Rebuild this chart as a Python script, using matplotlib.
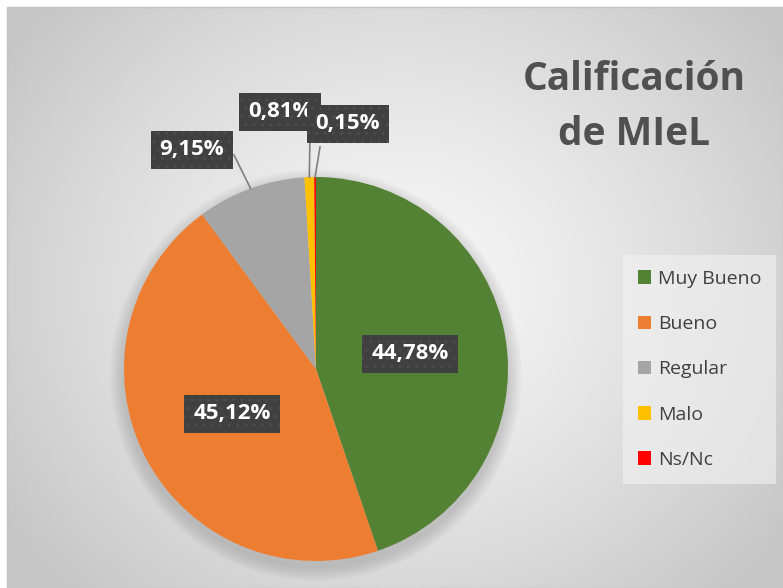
import numpy as np
import matplotlib
matplotlib.use("Agg")
import matplotlib.pyplot as plt
from matplotlib.patches import Rectangle, Ellipse

# ─── Datos ────────────────────────────────────────────────────────────────────
categorias = ["Muy Bueno", "Bueno", "Regular", "Malo", "Ns/Nc"]
porcentajes = [44.78, 45.12, 9.15, 0.81, 0.15]
etiquetas = ["44,78%", "45,12%", "9,15%", "0,81%", "0,15%"]
colores = ["#548235", "#ED7D31", "#A5A5A5", "#FFC000", "#FF0000"]

FUENTE = "Open Sans"
W, H = 783, 588
fig = plt.figure(figsize=(W / 100, H / 100), dpi=100)
fig.patch.set_facecolor("white")
ax = fig.add_axes([0, 0, 1, 1])

# ─── Fondo con gradiente radial ───────────────────────────────────────────────
x0, x1, y0, y1 = 7, 783, 0, 581
xx, yy = np.meshgrid(np.linspace(x0, x1, 400), np.linspace(y0, y1, 300))
cx, cy = 400, 300
d = np.sqrt(((xx - cx) / 470) ** 2 + ((yy - cy) / 420) ** 2)
d = np.clip(d, 0, 1)
g = 0.97 - 0.19 * d ** 1.3
img = np.dstack([g, g, g])
ax.imshow(img, extent=[x0, x1, y0, y1], origin="lower", zorder=0, aspect="auto")
ax.add_patch(Rectangle((x0, y0), x1 - x0, y1 - y0, fill=False,
                       edgecolor="#c4c4c4", lw=1, zorder=1))

# ─── Sombra de la torta ───────────────────────────────────────────────────────
centro = (316, 219)
radio = 192
for i in range(12):
    r = radio + 14 - i * 1.2
    ax.add_patch(Ellipse((centro[0], centro[1] - 6), 2 * r, 2 * r,
                         facecolor="#707070", alpha=0.025, lw=0, zorder=2))

wedges, _ = ax.pie(porcentajes, colors=colores, startangle=90, counterclock=False,
                   center=centro, radius=radio, frame=True,
                   wedgeprops=dict(linewidth=0))
for w in wedges:
    w.set_zorder(3)
ax.set_xlim(0, W)
ax.set_ylim(0, H)
ax.set_aspect("equal")
ax.axis("off")

# ─── Etiquetas ────────────────────────────────────────────────────────────────
pos_etiquetas = [(410, 234), (232, 174), (192, 438), (280, 476), (348, 464)]
inicio_lineas = {2: (234, 433), 3: (310, 455), 4: (320, 441)}
total = sum(porcentajes)
ang = 90.0
for i, (p, txt) in enumerate(zip(porcentajes, etiquetas)):
    mid = ang - p / total * 360 / 2
    ang -= p / total * 360
    lx, ly = pos_etiquetas[i]
    if i in inicio_lineas:
        ex = centro[0] + radio * np.cos(np.radians(mid))
        ey = centro[1] + radio * np.sin(np.radians(mid))
        sx, sy = inicio_lineas[i]
        ax.plot([sx, ex], [sy, ey], color="#7f7f7f", lw=1.2, zorder=4)
    caja = dict(boxstyle="square,pad=0.4", facecolor="#404040",
                edgecolor="#4c4c4c", hatch="..", lw=0)
    ax.text(lx, ly, txt, ha="center", va="center", color="white",
            fontsize=16, fontweight="bold", family=FUENTE, bbox=caja, zorder=5 + i)

# ─── Título ───────────────────────────────────────────────────────────────────
ax.text(634, H - 90, "Calificación", ha="center", va="baseline",
        fontsize=28, fontweight="bold", family=FUENTE, color="#505050", zorder=5)
ax.text(634, H - 145, "de MIeL", ha="center", va="baseline",
        fontsize=28, fontweight="bold", family=FUENTE, color="#505050", zorder=5)

# ─── Leyenda ──────────────────────────────────────────────────────────────────
leg = ax.legend(wedges, categorias, loc="center", bbox_to_anchor=(0.8934, 0.3716),
                bbox_transform=fig.transFigure, frameon=True, fancybox=False,
                prop=dict(family=FUENTE, size=14), labelcolor="#404040",
                handlelength=0.7, handleheight=0.7, handletextpad=0.35,
                labelspacing=1.4, borderpad=0.75)
leg.get_frame().set_facecolor("#f2f2f2")
leg.get_frame().set_alpha(0.6)
leg.get_frame().set_edgecolor("none")

fig.savefig("out.png", dpi=100)
